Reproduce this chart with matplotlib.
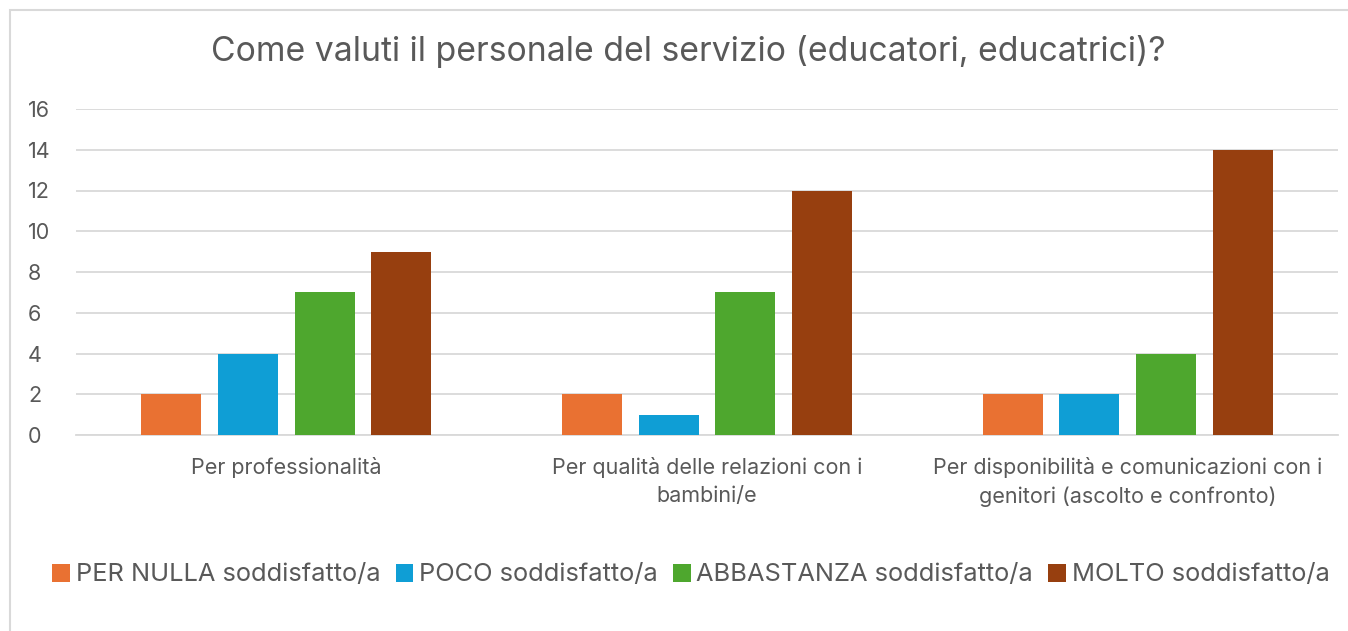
import matplotlib
matplotlib.use("Agg")
import matplotlib.pyplot as plt
import numpy as np
from matplotlib.patches import Rectangle

categories = ["Per professionalità",
              "Per qualità delle relazioni con i\nbambini/e",
              "Per disponibilità e comunicazioni con i\ngenitori (ascolto e confronto)"]
series_names = ["PER NULLA soddisfatto/a", "POCO soddisfatto/a",
                "ABBASTANZA soddisfatto/a", "MOLTO soddisfatto/a"]
per_nulla = [2, 2, 2]
poco = [4, 1, 2]
abbastanza = [7, 7, 4]
molto = [9, 12, 14]
yticks = [0, 2, 4, 6, 8, 10, 12, 14, 16]
title = "Come valuti il personale del servizio (educatori, educatrici)?"

colors = ["#E97132", "#0F9ED5", "#4EA72E", "#973F0F"]
text_color = "#595959"
grid_color = "#D9D9D9"

plt.rcParams['font.family'] = ['Inter', 'DejaVu Sans']

W, H = 1348, 631
fig = plt.figure(figsize=(W/100, H/100), dpi=100)
fig.patch.set_facecolor("white")

# outer chart border
fig.add_artist(Rectangle((10/W, -0.1), 2.0, 1.1 - 10/H, transform=fig.transFigure,
                         fill=False, edgecolor="#D9D9D9", linewidth=1.5))

L, R = 76, 1338
ax = fig.add_axes([L/W, 1 - 435/H, (R-L)/W, (435-109)/H])
series = [per_nulla, poco, abbastanza, molto]
x = np.arange(len(categories))
step = 0.1825
width = 0.1426
for i, (vals, name, c) in enumerate(zip(series, series_names, colors)):
    ax.bar(x + (i - 1.5) * step, vals, width, color=c, label=name, zorder=3)

ax.set_xlim(-0.5, len(categories) - 0.5)
ax.set_ylim(0, 16)
ax.set_yticks(yticks)
ax.yaxis.grid(True, color=grid_color, linewidth=1.3, zorder=0)
for s in ["top", "right", "left"]:
    ax.spines[s].set_visible(False)
ax.spines["bottom"].set_color(grid_color)
ax.spines["bottom"].set_linewidth(1.3)
ax.tick_params(axis="both", length=0, colors=text_color)
ax.tick_params(axis="y", pad=(L - 28) * 0.72, labelsize=15.5)
ax.tick_params(axis="x", pad=15.5)
ax.set_xticks(x)
ax.set_xticklabels(categories, color=text_color, fontsize=15.5, linespacing=1.55)
for lbl in ax.get_yticklabels():
    lbl.set_horizontalalignment("left")

fig.text(688/W, 1 - 52/H, title, ha="center", va="center", fontsize=24.3, color=text_color)

leg = fig.legend(loc="center", bbox_to_anchor=(691/W, 1 - 575/H), ncol=4, frameon=False,
                 fontsize=18.3, handlelength=0.7, handleheight=0.7, handletextpad=0.22,
                 columnspacing=0.6)
for t in leg.get_texts():
    t.set_color(text_color)

fig.savefig("out.png", dpi=100, facecolor="white")
